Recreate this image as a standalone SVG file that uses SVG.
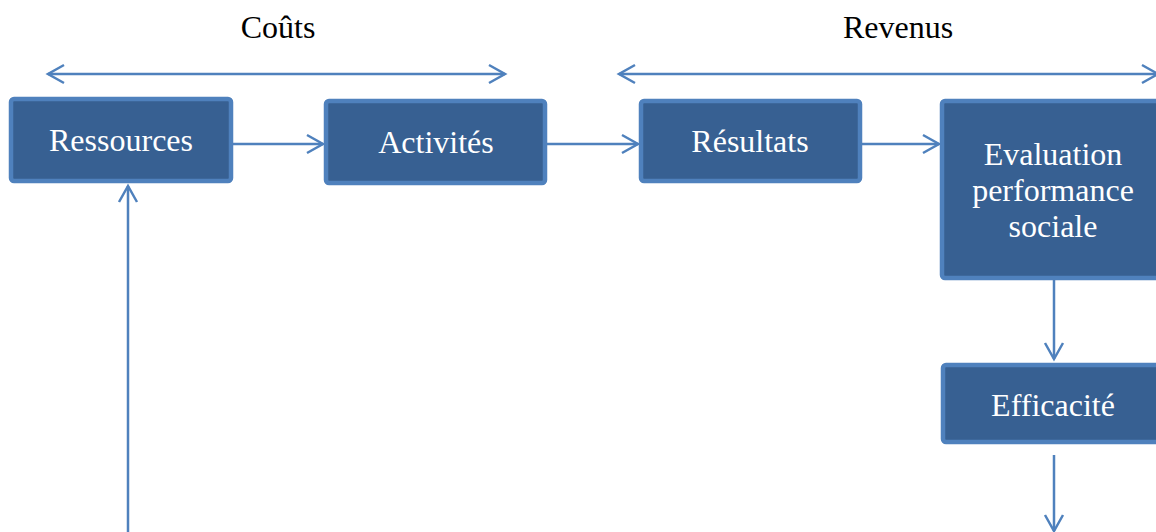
<svg xmlns="http://www.w3.org/2000/svg" width="1156" height="532" viewBox="0 0 1156 532">
<style>
.box{fill:#376092;stroke:#4F81BD;stroke-width:4.5}
.lbl{font-family:"Liberation Serif","Times New Roman",serif;font-size:32px;fill:#fff;text-anchor:middle}
.hdr{font-family:"Liberation Serif","Times New Roman",serif;font-size:32px;fill:#000;text-anchor:middle}
.con{stroke:#4F81BD;stroke-width:2.5;fill:none}
</style>
<defs>
<marker id="ah" markerUnits="userSpaceOnUse" markerWidth="24" markerHeight="24" viewBox="-20 -12 24 24" refX="0" refY="0" orient="auto-start-reverse">
<path d="M-16,-9 L0,0 L-16,9" fill="none" stroke="#4F81BD" stroke-width="2.5"/>
</marker>
</defs>
<rect width="1156" height="532" fill="#fff"/>
<text class="hdr" x="278" y="38">Coûts</text>
<text class="hdr" x="898" y="38">Revenus</text>
<g id="connectors">
<line class="con" x1="48" y1="74" x2="505" y2="74" marker-start="url(#ah)" marker-end="url(#ah)"/>
<line class="con" x1="619" y1="74" x2="1158" y2="74" marker-start="url(#ah)" marker-end="url(#ah)"/>
<line class="con" x1="233" y1="144" x2="323" y2="144" marker-end="url(#ah)"/>
<line class="con" x1="547" y1="144" x2="638" y2="144" marker-end="url(#ah)"/>
<line class="con" x1="862" y1="144" x2="939" y2="144" marker-end="url(#ah)"/>
<line class="con" x1="1054" y1="280" x2="1054" y2="359" marker-end="url(#ah)"/>
<line class="con" x1="1054" y1="455" x2="1054" y2="531" marker-end="url(#ah)"/>
<line class="con" x1="128" y1="532" x2="128" y2="186" marker-end="url(#ah)"/>
</g>
<g id="ressources">
<rect class="box" x="11" y="99" width="220" height="82" rx="3"/>
<text class="lbl" x="121" y="151">Ressources</text>
</g>
<g id="activites">
<rect class="box" x="326" y="101" width="219" height="82" rx="3"/>
<text class="lbl" x="436" y="153">Activités</text>
</g>
<g id="resultats">
<rect class="box" x="641" y="101" width="219" height="80" rx="3"/>
<text class="lbl" x="750" y="152">Résultats</text>
</g>
<g id="evaluation">
<rect class="box" x="942" y="101" width="224" height="177" rx="3"/>
<text class="lbl" x="1053" y="165">Evaluation</text>
<text class="lbl" x="1053" y="201">performance</text>
<text class="lbl" x="1053" y="237">sociale</text>
</g>
<g id="efficacite">
<rect class="box" x="943" y="365" width="222" height="77" rx="3"/>
<text class="lbl" x="1053" y="416">Efficacité</text>
</g>
</svg>
